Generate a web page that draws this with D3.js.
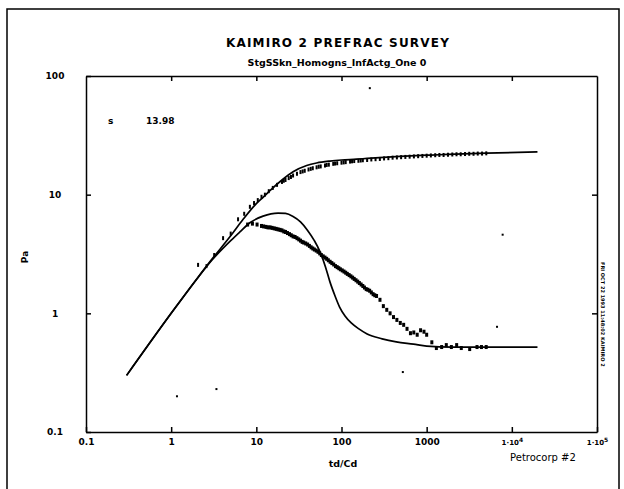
<!DOCTYPE html>
<html>
<head>
<meta charset="utf-8">
<script src="https://cdn.jsdelivr.net/npm/d3@7"></script>
<style>
  body { margin: 0; background: #fff; }
  text { font-family: "DejaVu Sans", sans-serif; fill: #000; }
</style>
</head>
<body>
<div id="chart"></div>
<script>
// tick values
const xTicks = [0.1, 1, 10, 100, 1000, 1e4, 1e5];
const yTicks = [0.1, 1, 10, 100];

// model curves (solid lines)
const modelP = [
  [0.3, 0.3], [1, 1.0], [2, 1.95], [3, 2.85], [5, 4.5], [7, 6.2], [10, 8.4], [12, 9.5],
  [15, 11.1], [20, 13.3], [27, 15.6], [39, 17.6], [51, 18.5], [73, 19.2], [100, 19.6],
  [150, 19.9], [200, 20.2], [484, 21.0], [1000, 21.5], [1400, 21.7], [5000, 22.4], [20000, 22.9]
];
const modelD = [
  [0.3, 0.3], [1, 1.0], [2, 1.95], [3, 2.8], [5, 4.1], [6.4, 4.85], [8.4, 5.8], [12, 6.6],
  [18, 7.0], [22, 6.95], [27, 6.55], [33, 5.9], [40, 5.0], [48, 4.1], [56, 3.3], [65, 2.45],
  [73, 1.85], [84, 1.4], [95, 1.13], [110, 0.95], [130, 0.83], [160, 0.74], [200, 0.67],
  [300, 0.61], [440, 0.575], [700, 0.55], [1000, 0.53], [2000, 0.52], [20000, 0.52]
];

// measured pressure (upper markers)
const dataP = [
  [2.07, 2.56], [2.6, 2.5], [3.2, 3.1], [4.07, 4.3], [5.0, 4.7], [6.1, 6.2], [7.2, 6.9], [8.4, 7.9],
  [9.4, 8.5], [10.4, 9.0], [11.5, 9.6], [12.6, 10.0], [14.0, 10.7], [15.6, 11.4], [17.5, 12.1],
  [20, 12.8], [21, 13.1], [22, 13.3], [24, 13.8], [25.5, 14.1], [27, 14.5], [30, 15.0],
  [33, 15.5], [35, 15.7], [37, 15.9], [41, 16.3], [43.5, 16.5], [46, 16.7], [51, 17.0],
  [54, 17.2], [57, 17.3], [64, 17.6], [67, 17.8], [71, 17.9], [80, 18.2], [84, 18.3], [89, 18.4],
  [100, 18.6], [106, 18.7], [112, 18.8], [126, 19.0], [133, 19.1], [141, 19.2], [158, 19.3],
  [168, 19.4], [178, 19.5], [200, 19.6], [224, 19.8], [251, 19.9], [282, 20.0], [316, 20.2],
  [355, 20.3], [398, 20.5], [447, 20.6], [501, 20.7], [562, 20.8], [631, 20.9], [708, 21.0],
  [794, 21.1], [891, 21.2], [1000, 21.3], [1120, 21.4], [1260, 21.5], [1410, 21.6], [1580, 21.6],
  [1780, 21.7], [2000, 21.8], [2240, 21.9], [2510, 21.9], [2820, 22.0], [3160, 22.1],
  [3550, 22.1], [3980, 22.2], [4470, 22.2], [5010, 22.3]
];

// measured derivative (lower markers)
const dataD = [
  [7.9, 5.6], [9.0, 5.7], [10.2, 5.6], [11.5, 5.45], [12.2, 5.4], [13.0, 5.35], [13.7, 5.3],
  [14.5, 5.3], [15.3, 5.25], [16.2, 5.2], [17.1, 5.15], [18.0, 5.1], [19.0, 5.05], [20, 5.0],
  [21, 4.9], [22, 4.85], [23.2, 4.75], [24.5, 4.65], [25.7, 4.55], [27, 4.45], [28.5, 4.4],
  [30, 4.3], [31.5, 4.2], [33, 4.1], [34.5, 4.0], [36, 3.95], [38, 3.88], [40, 3.8], [42, 3.7],
  [44, 3.6], [46, 3.52], [48, 3.45], [50.5, 3.38], [53, 3.3], [55.5, 3.2], [58, 3.1], [61, 3.02],
  [64, 2.95], [67, 2.88], [70, 2.8], [73.5, 2.72], [77, 2.65], [81, 2.58], [85, 2.5], [89, 2.45],
  [93, 2.4], [97, 2.35], [102, 2.3], [107, 2.25], [112, 2.2], [117, 2.15], [123, 2.1],
  [129, 2.05], [135, 2.0], [141, 1.95], [148, 1.9], [155, 1.85], [162, 1.8], [170, 1.75],
  [178, 1.7], [186, 1.65], [195, 1.6], [204, 1.58], [214, 1.55], [224, 1.5], [235, 1.45],
  [246, 1.42], [258, 1.4], [283, 1.3], [310, 1.15], [340, 1.07], [372, 1.0], [408, 0.93],
  [447, 0.88], [490, 0.83], [537, 0.80], [588, 0.74], [645, 0.68], [706, 0.69], [774, 0.66],
  [848, 0.72], [930, 0.70], [1000, 0.66], [1150, 0.57], [1300, 0.51], [1500, 0.52], [1700, 0.54],
  [1950, 0.52], [2250, 0.54], [2550, 0.51], [3200, 0.50], [3900, 0.52], [4400, 0.52], [5000, 0.52]
];

// stray scan dots
const strays = [[1.17, 0.20], [3.4, 0.23], [7800, 4.6], [6700, 0.77], [525, 0.32], [215, 79]];

const width = 624, height = 489;
const margin = { left: 86, right: 27, top: 76, bottom: 57 };

const svg = d3.select("#chart").append("svg")
  .attr("width", width)
  .attr("height", height);

// outer frame (open at the bottom)
svg.append("path")
  .attr("d", "M7,489 L7,9 L619,9 L619,489")
  .attr("fill", "none")
  .attr("stroke", "#000")
  .attr("stroke-width", 1.5);

const x = d3.scaleLog().domain([0.1, 1e5]).range([margin.left, width - margin.right]);
const y = d3.scaleLog().domain([0.1, 100]).range([height - margin.bottom, margin.top]);

const fmtX = d => d >= 1e4 ? "" : (d < 1 ? "0.1" : String(d));

// bottom axis
const gx = svg.append("g")
  .attr("transform", `translate(0,${y(0.1)})`)
  .call(d3.axisBottom(x).tickValues(xTicks).tickSizeInner(-5).tickSizeOuter(0).tickPadding(7).tickFormat(fmtX));

gx.selectAll(".tick text")
  .style("font-size", "9px")
  .style("font-weight", "bold")
  .each(function (d) {
    if (d >= 1e4) {
      const t = d3.select(this);
      t.append("tspan").text("1\u00b710").style("font-size", "7px");
      t.append("tspan").text(Math.round(Math.log10(d))).attr("dy", "-0.5em").style("font-size", "6px");
    }
  });

// top axis
svg.append("g")
  .attr("transform", `translate(0,${y(100)})`)
  .call(d3.axisTop(x).tickValues(xTicks.slice(1, -1)).tickSizeInner(-5).tickSizeOuter(0).tickFormat(""));

// left axis
const gy = svg.append("g")
  .attr("transform", `translate(${x(0.1)},0)`)
  .call(d3.axisLeft(y).tickValues(yTicks).tickSizeInner(-5).tickSizeOuter(0).tickFormat(d => d < 1 ? "0.1" : String(d)));

gy.selectAll(".tick text")
  .attr("x", -31)
  .attr("text-anchor", "middle")
  .style("font-size", "9px")
  .style("font-weight", "bold");

// right axis
svg.append("g")
  .attr("transform", `translate(${x(1e5)},0)`)
  .call(d3.axisRight(y).tickValues(yTicks.slice(1, -1)).tickSizeInner(-5).tickSizeOuter(0).tickFormat(""));

svg.selectAll(".domain, .tick line").attr("stroke", "#000").attr("stroke-width", 1.5);

// model lines
const line = d3.line().x(d => x(d[0])).y(d => y(d[1])).curve(d3.curveMonotoneX);

[modelP, modelD].forEach(m => {
  svg.append("path")
    .datum(m)
    .attr("d", line)
    .attr("fill", "none")
    .attr("stroke", "#000")
    .attr("stroke-width", 1.7);
});

// markers: pressure as thin dashes, derivative as small blocks
svg.append("g")
  .selectAll("rect")
  .data(dataP)
  .join("rect")
  .attr("x", d => x(d[0]) - 1)
  .attr("y", d => y(d[1]) - 2)
  .attr("width", 2)
  .attr("height", 4)
  .attr("fill", "#000");

svg.append("g")
  .selectAll("rect")
  .data(dataD)
  .join("rect")
  .attr("x", d => x(d[0]) - 1.5)
  .attr("y", d => y(d[1]) - 2)
  .attr("width", 3)
  .attr("height", 4)
  .attr("fill", "#000");

svg.append("g")
  .selectAll("rect")
  .data(strays)
  .join("rect")
  .attr("x", d => x(d[0]) - 1)
  .attr("y", d => y(d[1]) - 1)
  .attr("width", 2)
  .attr("height", 2)
  .attr("fill", "#000");

// titles
svg.append("text")
  .attr("x", 338).attr("y", 47)
  .attr("text-anchor", "middle")
  .style("font-size", "12px")
  .style("font-weight", "bold")
  .style("letter-spacing", "1.2px")
  .text("KAIMIRO 2 PREFRAC SURVEY");

svg.append("text")
  .attr("x", 337).attr("y", 66)
  .attr("text-anchor", "middle")
  .style("font-size", "9.5px")
  .style("font-weight", "bold")
  .text("StgSSkn_Homogns_InfActg_One 0");

// axis titles
svg.append("text")
  .attr("transform", "translate(28,257) rotate(-90)")
  .attr("text-anchor", "middle")
  .style("font-size", "9px")
  .style("font-weight", "bold")
  .text("Pa");

svg.append("text")
  .attr("x", 343).attr("y", 467)
  .attr("text-anchor", "middle")
  .style("font-size", "9.5px")
  .style("font-weight", "bold")
  .text("td/Cd");

svg.append("text")
  .attr("x", 543).attr("y", 461)
  .attr("text-anchor", "middle")
  .style("font-size", "10px")
  .text("Petrocorp #2");

// skin annotation
svg.append("text")
  .attr("x", 108).attr("y", 124)
  .style("font-size", "9px")
  .style("font-weight", "bold")
  .text("s");

svg.append("text")
  .attr("x", 146).attr("y", 124)
  .style("font-size", "9px")
  .style("font-weight", "bold")
  .text("13.98");

// plot stamp along the right axis
svg.append("text")
  .attr("transform", "translate(601,262) rotate(90)")
  .style("font-size", "5px")
  .style("font-weight", "bold")
  .text("FRI OCT 22 1993 11:48:02  KAIMIRO 2");
</script>
</body>
</html>
